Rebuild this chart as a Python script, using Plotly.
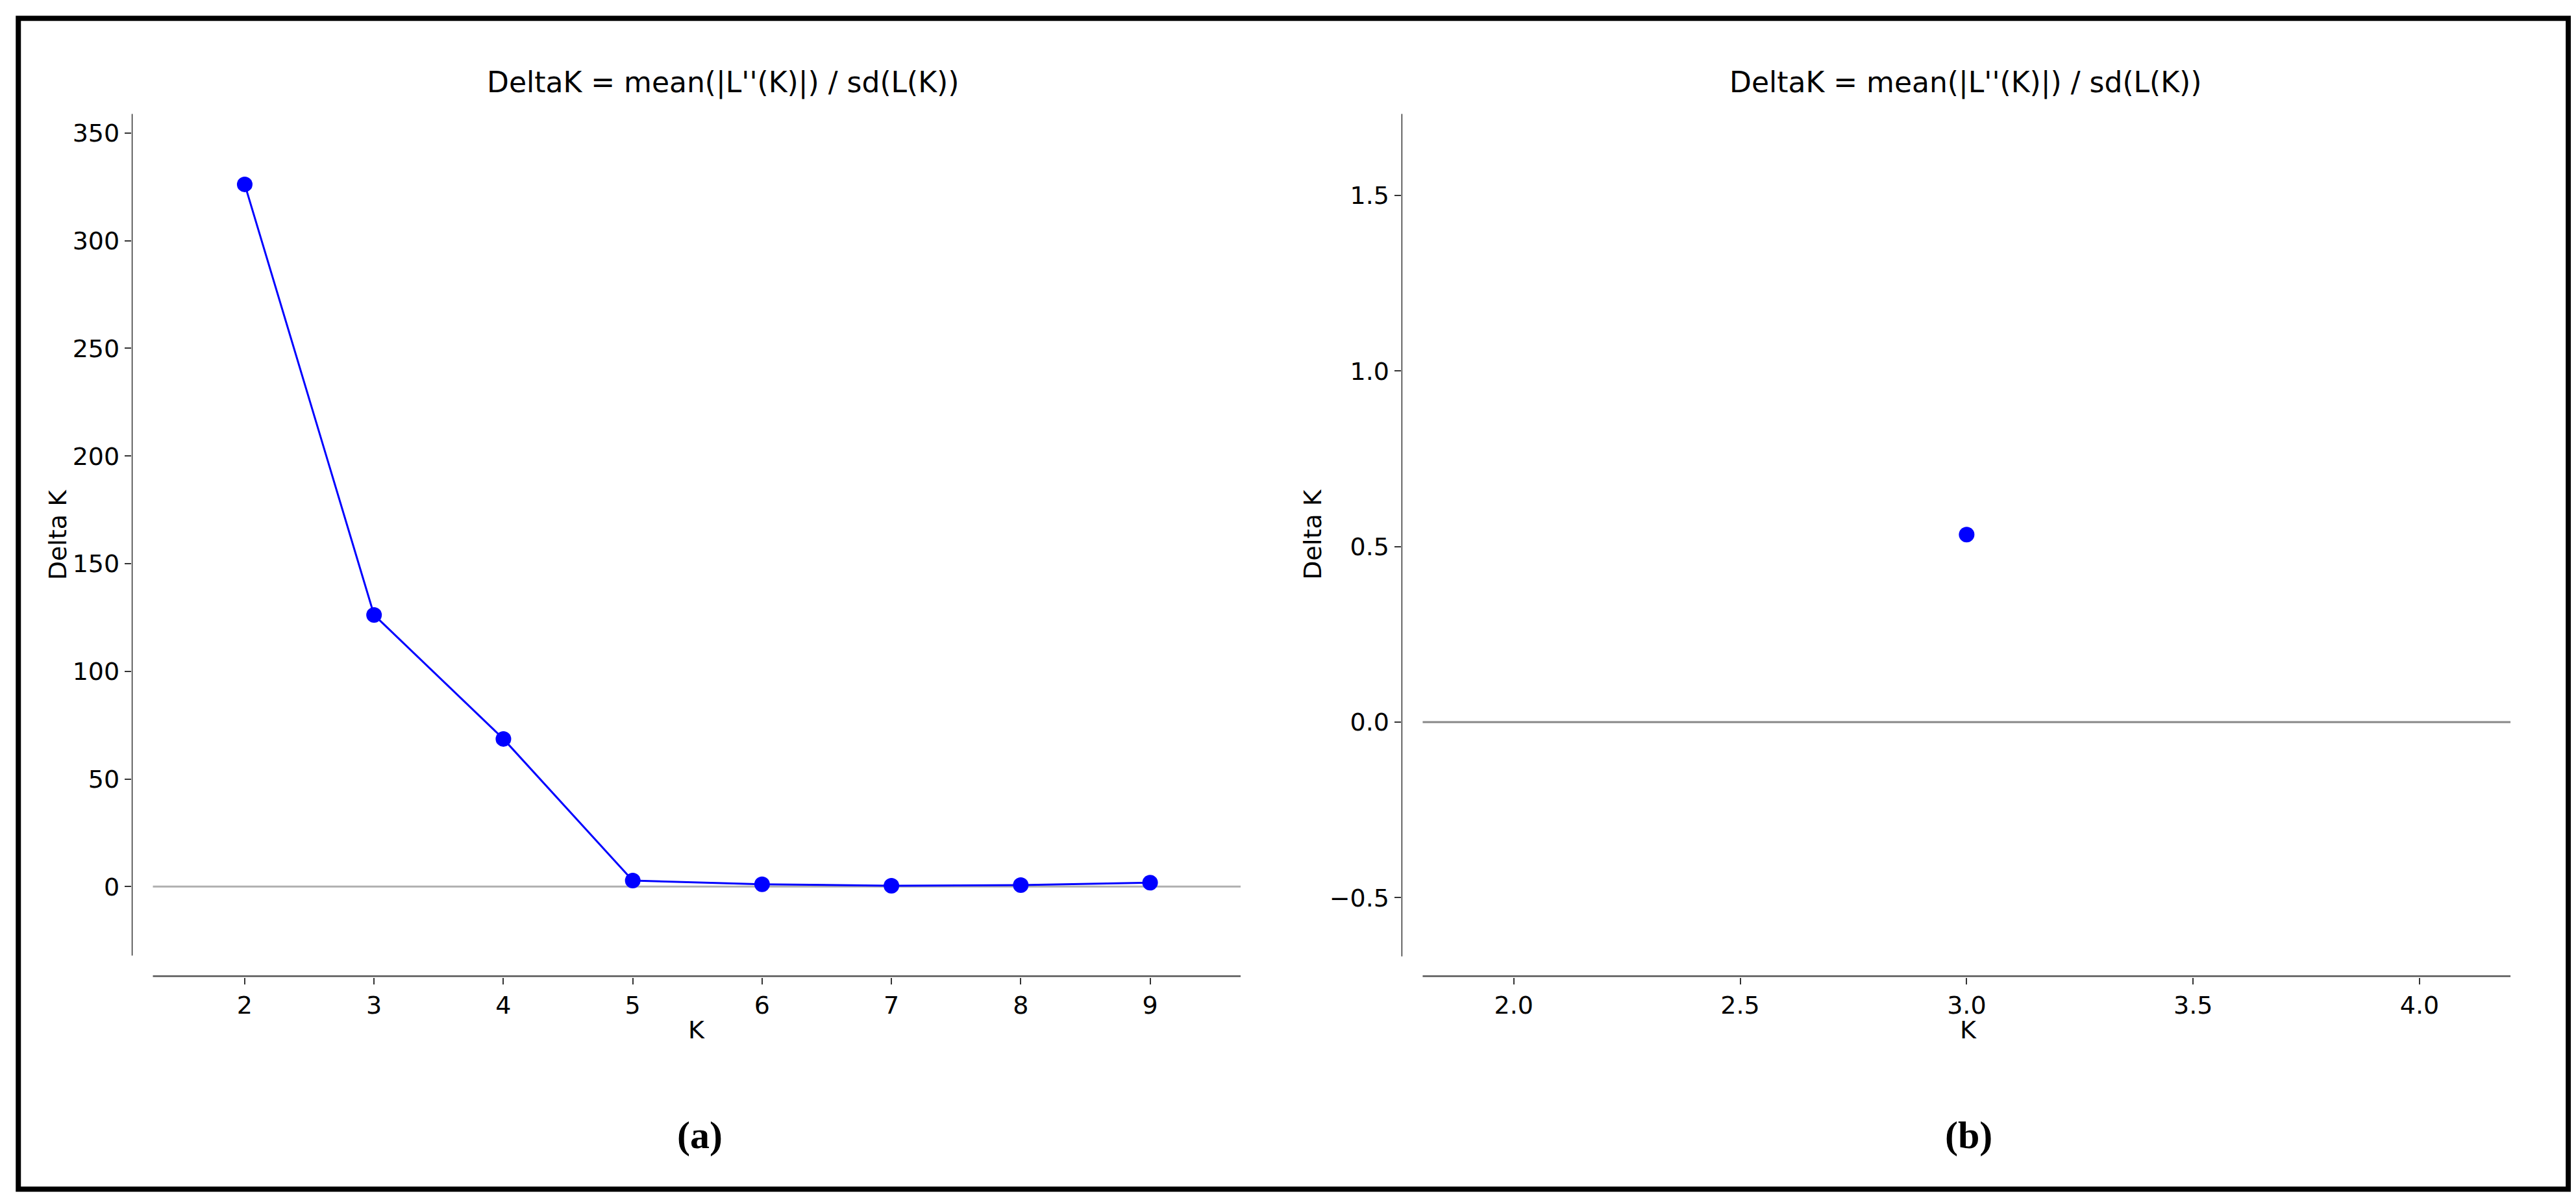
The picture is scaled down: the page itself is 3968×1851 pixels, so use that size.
import plotly.graph_objects as go

# Panel (a): Delta K for K = 2..9
k_a = [2, 3, 4, 5, 6, 7, 8, 9]
delta_a = [326.2, 126.2, 68.6, 2.8, 1.1, 0.4, 0.7, 1.8]

# Panel (b): single Delta K value
k_b = [3.0]
delta_b = [0.534]

TITLE = "DeltaK = mean(|L''(K)|) / sd(L(K))"
FONT = "DejaVu Sans"
W, H = 3968, 1851

fig = go.Figure()
fig.add_trace(go.Scatter(x=k_a, y=delta_a, mode="lines+markers",
                         line=dict(color="#0000ff", width=3),
                         marker=dict(color="#0000ff", size=24),
                         xaxis="x", yaxis="y", showlegend=False))
fig.add_trace(go.Scatter(x=k_b, y=delta_b, mode="markers",
                         marker=dict(color="#0000ff", size=24),
                         xaxis="x2", yaxis="y2", showlegend=False))

tick_font = dict(family=FONT, size=38, color="black")
ax_common = dict(showline=False, showgrid=False, zeroline=False,
                 ticks="outside", ticklen=10, tickwidth=2, tickcolor="#333",
                 tickfont=tick_font)
ydom = [0.1915, 0.9097]

fig.update_layout(
    width=W, height=H, margin=dict(l=0, r=0, t=0, b=0),
    paper_bgcolor="white", plot_bgcolor="white",
    xaxis=dict(domain=[0.0491, 0.4796], range=[1.126, 9.70],
               tickvals=k_a, anchor="y", **ax_common),
    yaxis=dict(domain=ydom, range=[-42, 359],
               tickvals=[0, 50, 100, 150, 200, 250, 300, 350], anchor="x", **ax_common),
    xaxis2=dict(domain=[0.542, 0.9726], range=[1.752, 4.201],
                tickvals=[2.0, 2.5, 3.0, 3.5, 4.0], ticktext=["2.0", "2.5", "3.0", "3.5", "4.0"],
                anchor="y2", **ax_common),
    yaxis2=dict(domain=ydom, range=[-0.726, 1.733],
                tickvals=[-0.5, 0.0, 0.5, 1.0, 1.5], ticktext=["\u22120.5", "0.0", "0.5", "1.0", "1.5"],
                anchor="x2", **ax_common),
)

spine = dict(color="#333", width=3)
shapes = [
    # panel (a) spines and zero line
    dict(type="line", xref="x", yref="y", x0=1.126, x1=1.126, y0=-32, y1=359, line=spine),
    dict(type="line", xref="x", yref="y", x0=1.29, x1=9.70, y0=-42, y1=-42, line=dict(color="#555", width=5)),
    dict(type="line", xref="x", yref="y", x0=1.29, x1=9.70, y0=0, y1=0, line=dict(color="#b0b0b0", width=3), layer="below"),
    # panel (b)
    dict(type="line", xref="x2", yref="y2", x0=1.752, x1=1.752, y0=-0.667, y1=1.733, line=spine),
    dict(type="line", xref="x2", yref="y2", x0=1.799, x1=4.201, y0=-0.726, y1=-0.726, line=dict(color="#555", width=5)),
    dict(type="line", xref="x2", yref="y2", x0=1.799, x1=4.201, y0=0, y1=0, line=dict(color="#888", width=3), layer="below"),
    # outer frame
    dict(type="rect", xref="paper", yref="paper", x0=0.0051, x1=0.995, y0=0.015, y1=0.989,
         line=dict(color="black", width=8)),
]


def note(text, x, y, font, angle=0):
    return dict(text=text, x=x / 1568, y=1 - y / 731, xref="paper", yref="paper",
                xanchor="center", yanchor="middle", showarrow=False,
                textangle=angle, font=font)


lab = dict(family=FONT, size=38, color="black")
title_font = dict(family=FONT, size=44, color="black")
serif = dict(family="Liberation Serif", size=60, color="black")
annotations = [
    note(TITLE, 437, 47, title_font),
    note(TITLE, 1193, 47, title_font),
    note("K", 421, 623, lab),
    note("K", 1195, 623, lab),
    note("Delta K", 32, 322, lab, -90),
    note("Delta K", 796, 322, lab, -90),
    note("<b>(a)</b>", 423, 687, serif),
    note("<b>(b)</b>", 1195, 687, serif),
]
fig.update_layout(shapes=shapes, annotations=annotations)

fig.write_html("out.html")
